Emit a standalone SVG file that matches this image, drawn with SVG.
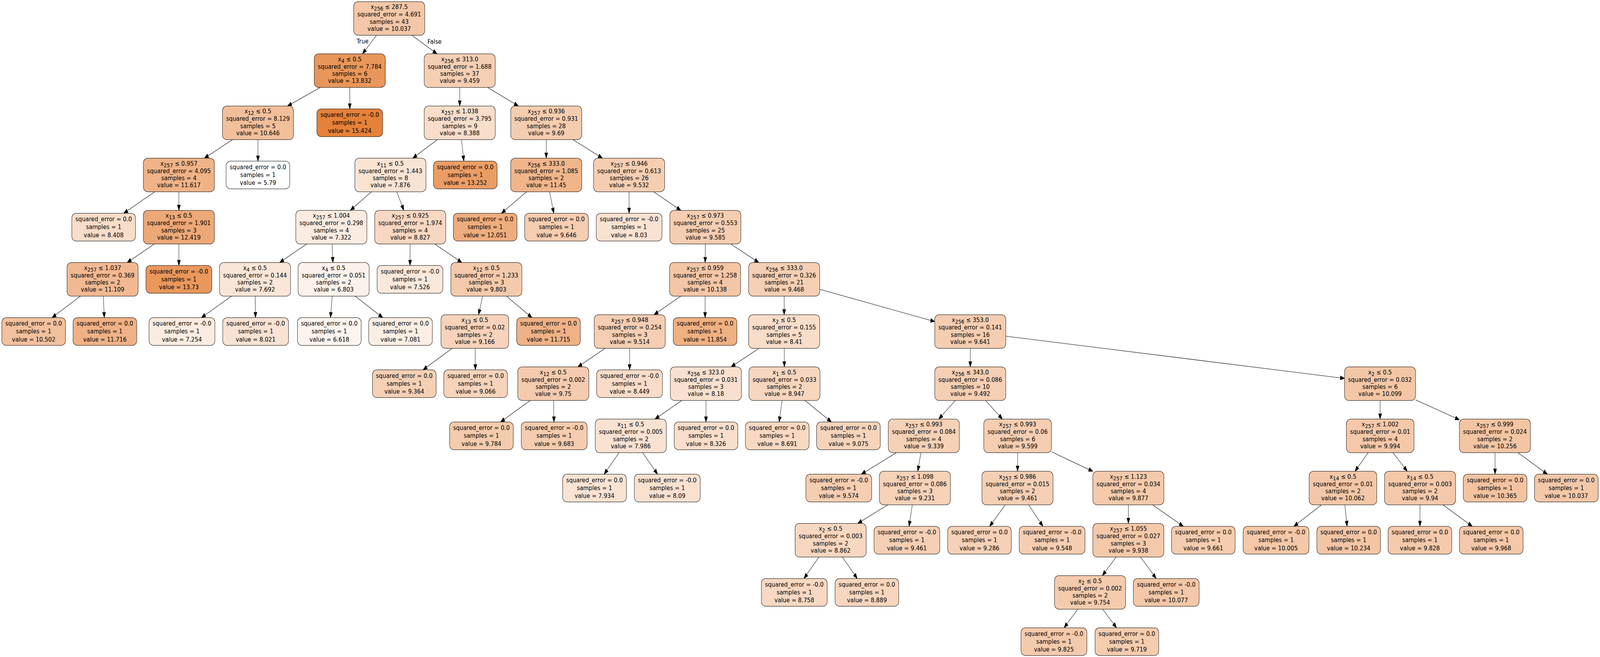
<svg xmlns="http://www.w3.org/2000/svg" width="5201" height="1681" viewBox="0 0 5201 1681" preserveAspectRatio="none">
<defs>
<style>
svg{width:100vw;height:100vh;display:block}
text{font-family:"DejaVu Sans","Liberation Sans",sans-serif;font-size:16px;text-anchor:middle;fill:#000;transform:scale(1.147,1)}
.s{font-size:13.8px}
rect.b{stroke:#000;stroke-width:1.1}
#edges line{stroke:#000;stroke-width:1.1;marker-end:url(#a)}
</style>
<marker id="a" markerUnits="userSpaceOnUse" markerWidth="14" markerHeight="11" viewBox="0 0 14 11" refX="13.5" refY="5.5" orient="auto" style="overflow:visible"><path d="M0,0.4 L13.5,5.5 L0,10.6 z" fill="#000" stroke="#000" stroke-width="1"/></marker>
</defs>
<rect width="5201" height="1681" fill="#fff"/>
<g id="edges">
<line x1="1223.9" y1="90.2" x2="1178.3" y2="137.7"/>
<line x1="1339.0" y1="90.2" x2="1420.6" y2="137.7"/>
<line x1="1040.9" y1="223.7" x2="934.6" y2="271.2"/>
<line x1="1137" y1="223.7" x2="1137" y2="278.7"/>
<line x1="1494.4" y1="223.7" x2="1494.4" y2="271.2"/>
<line x1="1585.0" y1="223.7" x2="1685.0" y2="271.2"/>
<line x1="755.7" y1="357.2" x2="664.3" y2="404.7"/>
<line x1="838.5" y1="357.2" x2="838.5" y2="412.2"/>
<line x1="1421.8" y1="357.2" x2="1341.6" y2="404.7"/>
<line x1="1500.2" y1="357.2" x2="1507.7" y2="412.2"/>
<line x1="1775.6" y1="357.2" x2="1775.6" y2="404.7"/>
<line x1="1862.4" y1="357.2" x2="1958.2" y2="404.7"/>
<line x1="502.8" y1="490.7" x2="402.0" y2="545.7"/>
<line x1="581.5" y1="490.7" x2="581.5" y2="538.2"/>
<line x1="1207.2" y1="490.7" x2="1138.8" y2="538.2"/>
<line x1="1289.8" y1="490.7" x2="1312.7" y2="538.2"/>
<line x1="1711.6" y1="490.7" x2="1629.8" y2="545.7"/>
<line x1="1786.4" y1="490.7" x2="1800.1" y2="545.7"/>
<line x1="2045" y1="490.7" x2="2045" y2="545.7"/>
<line x1="2124.9" y1="490.7" x2="2213.1" y2="538.2"/>
<line x1="501.6" y1="624.2" x2="413.4" y2="671.7"/>
<line x1="581.5" y1="624.2" x2="581.5" y2="679.2"/>
<line x1="997.1" y1="624.2" x2="908.9" y2="671.7"/>
<line x1="1079.4" y1="624.2" x2="1082.1" y2="671.7"/>
<line x1="1333.2" y1="624.2" x2="1332.9" y2="679.2"/>
<line x1="1413.2" y1="624.2" x2="1501.3" y2="671.7"/>
<line x1="2292.7" y1="624.2" x2="2292.3" y2="671.7"/>
<line x1="2375.5" y1="624.2" x2="2466.5" y2="671.7"/>
<line x1="261.4" y1="757.7" x2="169.1" y2="812.7"/>
<line x1="335.9" y1="757.7" x2="339.0" y2="812.7"/>
<line x1="752.5" y1="757.7" x2="654.7" y2="812.7"/>
<line x1="829.6" y1="757.7" x2="830.5" y2="812.7"/>
<line x1="1080.0" y1="757.7" x2="1074.2" y2="812.7"/>
<line x1="1154.6" y1="757.7" x2="1244.2" y2="812.7"/>
<line x1="1568.9" y1="757.7" x2="1555.6" y2="805.2"/>
<line x1="1646.1" y1="757.7" x2="1729.3" y2="812.7"/>
<line x1="2213.1" y1="757.7" x2="2125.9" y2="805.2"/>
<line x1="2292" y1="757.7" x2="2292" y2="812.7"/>
<line x1="2549" y1="757.7" x2="2549" y2="805.2"/>
<line x1="2664.5" y1="740.2" x2="3038.5" y2="822.7"/>
<line x1="1469.6" y1="891.2" x2="1375.2" y2="946.2"/>
<line x1="1544.3" y1="891.2" x2="1545.3" y2="946.2"/>
<line x1="1967.0" y1="891.2" x2="1878.5" y2="938.7"/>
<line x1="2046.8" y1="891.2" x2="2046.6" y2="946.2"/>
<line x1="2467.0" y1="891.2" x2="2376.5" y2="938.7"/>
<line x1="2549.3" y1="891.2" x2="2549.7" y2="938.7"/>
<line x1="3154" y1="891.2" x2="3154" y2="938.7"/>
<line x1="3270" y1="860.3" x2="4370.5" y2="968.2"/>
<line x1="1723.3" y1="1024.7" x2="1627.1" y2="1079.7"/>
<line x1="1799.5" y1="1024.7" x2="1800.7" y2="1079.7"/>
<line x1="2215.9" y1="1024.7" x2="2129.1" y2="1072.2"/>
<line x1="2294.7" y1="1024.7" x2="2294.9" y2="1079.7"/>
<line x1="2542.4" y1="1024.7" x2="2532.7" y2="1079.7"/>
<line x1="2617.0" y1="1024.7" x2="2702.7" y2="1079.7"/>
<line x1="3105.4" y1="1024.7" x2="3051.6" y2="1072.2"/>
<line x1="3203.6" y1="1024.7" x2="3258.4" y2="1072.2"/>
<line x1="4486.2" y1="1024.7" x2="4486.3" y2="1072.2"/>
<line x1="4601.5" y1="1023.0" x2="4744.0" y2="1073.9"/>
<line x1="2012.5" y1="1158.2" x2="1963.9" y2="1213.2"/>
<line x1="2088.7" y1="1158.2" x2="2137.5" y2="1213.2"/>
<line x1="2913.9" y1="1158.2" x2="2800.0" y2="1213.2"/>
<line x1="2993.7" y1="1158.2" x2="2983.3" y2="1205.7"/>
<line x1="3307.8" y1="1158.2" x2="3307.7" y2="1205.7"/>
<line x1="3418" y1="1156.0" x2="3552.5" y2="1205.9"/>
<line x1="4447.5" y1="1158.2" x2="4404.5" y2="1205.7"/>
<line x1="4528.2" y1="1158.2" x2="4574.3" y2="1205.7"/>
<line x1="4859.7" y1="1158.2" x2="4859.9" y2="1213.2"/>
<line x1="4934.2" y1="1158.2" x2="5029.8" y2="1213.2"/>
<line x1="2885.7" y1="1291.7" x2="2788.3" y2="1339.2"/>
<line x1="2965.6" y1="1291.7" x2="2954.9" y2="1346.7"/>
<line x1="3267.7" y1="1291.7" x2="3216.8" y2="1346.7"/>
<line x1="3343.7" y1="1291.7" x2="3390.1" y2="1346.7"/>
<line x1="3668" y1="1291.7" x2="3668" y2="1339.2"/>
<line x1="3746.4" y1="1291.7" x2="3846.8" y2="1346.7"/>
<line x1="4295.4" y1="1291.7" x2="4205.8" y2="1346.7"/>
<line x1="4371.5" y1="1291.7" x2="4379.1" y2="1346.7"/>
<line x1="4615.8" y1="1291.7" x2="4615.6" y2="1346.7"/>
<line x1="4690.6" y1="1291.7" x2="4785.9" y2="1346.7"/>
<line x1="2662.0" y1="1425.2" x2="2613.4" y2="1480.2"/>
<line x1="2738.0" y1="1425.2" x2="2786.6" y2="1480.2"/>
<line x1="3627.9" y1="1425.2" x2="3583.6" y2="1472.7"/>
<line x1="3707.6" y1="1425.2" x2="3758.3" y2="1480.2"/>
<line x1="3503.4" y1="1558.7" x2="3459.1" y2="1606.2"/>
<line x1="3584.3" y1="1558.7" x2="3629.3" y2="1606.2"/>
<g transform="translate(1178.3,0)"><text x="0" y="110.7">True</text></g>
<g transform="translate(1412.4,0)"><text x="0" y="111.6">False</text></g>
</g>
<g id="n0" transform="translate(1265.2,4.2)"><rect class="b" x="-115.5" width="231" height="86" rx="14" ry="12" fill="#f3c7a8"/><text><tspan x="0" y="19.2">x<tspan class="s" dy="4">256</tspan><tspan dy="-4"> ≤ 287.5</tspan></tspan><tspan x="0" y="38">squared_error = 4.691</tspan><tspan x="0" y="56.4">samples = 43</tspan><tspan x="0" y="74.8">value = 10.037</tspan></text></g>
<g id="n1" transform="translate(1137,137.7)"><rect class="b" x="-115.5" width="231" height="86" rx="14" ry="12" fill="#e9965a"/><text><tspan x="0" y="19.2">x<tspan class="s" dy="4">4</tspan><tspan dy="-4"> ≤ 0.5</tspan></tspan><tspan x="0" y="38">squared_error = 7.784</tspan><tspan x="0" y="56.4">samples = 6</tspan><tspan x="0" y="74.8">value = 13.832</tspan></text></g>
<g id="n2" transform="translate(1494.4,137.7)"><rect class="b" x="-115.5" width="231" height="86" rx="14" ry="12" fill="#f5cfb4"/><text><tspan x="0" y="19.2">x<tspan class="s" dy="4">256</tspan><tspan dy="-4"> ≤ 313.0</tspan></tspan><tspan x="0" y="38">squared_error = 1.688</tspan><tspan x="0" y="56.4">samples = 37</tspan><tspan x="0" y="74.8">value = 9.459</tspan></text></g>
<g id="n3" transform="translate(838.5,271.2)"><rect class="b" x="-115.5" width="231" height="86" rx="14" ry="12" fill="#f2bf9b"/><text><tspan x="0" y="19.2">x<tspan class="s" dy="4">12</tspan><tspan dy="-4"> ≤ 0.5</tspan></tspan><tspan x="0" y="38">squared_error = 8.129</tspan><tspan x="0" y="56.4">samples = 5</tspan><tspan x="0" y="74.8">value = 10.646</tspan></text></g>
<g id="n4" transform="translate(1137,278.7)"><rect class="b" x="-107" width="214" height="71" rx="14" ry="12" fill="#e58139"/><text><tspan x="0" y="20.5">squared_error = -0.0</tspan><tspan x="0" y="40.7">samples = 1</tspan><tspan x="0" y="60.9">value = 15.424</tspan></text></g>
<g id="n5" transform="translate(1494.4,271.2)"><rect class="b" x="-115.5" width="231" height="86" rx="14" ry="12" fill="#f8ddca"/><text><tspan x="0" y="19.2">x<tspan class="s" dy="4">257</tspan><tspan dy="-4"> ≤ 1.038</tspan></tspan><tspan x="0" y="38">squared_error = 3.795</tspan><tspan x="0" y="56.4">samples = 9</tspan><tspan x="0" y="74.8">value = 8.388</tspan></text></g>
<g id="n6" transform="translate(1775.6,271.2)"><rect class="b" x="-115.5" width="231" height="86" rx="14" ry="12" fill="#f4ccaf"/><text><tspan x="0" y="19.2">x<tspan class="s" dy="4">257</tspan><tspan dy="-4"> ≤ 0.936</tspan></tspan><tspan x="0" y="38">squared_error = 0.931</tspan><tspan x="0" y="56.4">samples = 28</tspan><tspan x="0" y="74.8">value = 9.69</tspan></text></g>
<g id="n7" transform="translate(581.5,404.7)"><rect class="b" x="-115.5" width="231" height="86" rx="14" ry="12" fill="#efb387"/><text><tspan x="0" y="19.2">x<tspan class="s" dy="4">257</tspan><tspan dy="-4"> ≤ 0.957</tspan></tspan><tspan x="0" y="38">squared_error = 4.095</tspan><tspan x="0" y="56.4">samples = 4</tspan><tspan x="0" y="74.8">value = 11.617</tspan></text></g>
<g id="n8" transform="translate(838.5,412.2)"><rect class="b" x="-103.5" width="207" height="71" rx="14" ry="12" fill="#ffffff"/><text><tspan x="0" y="20.5">squared_error = 0.0</tspan><tspan x="0" y="40.7">samples = 1</tspan><tspan x="0" y="60.9">value = 5.79</tspan></text></g>
<g id="n9" transform="translate(1269,404.7)"><rect class="b" x="-115.5" width="231" height="86" rx="14" ry="12" fill="#f9e4d4"/><text><tspan x="0" y="19.2">x<tspan class="s" dy="4">11</tspan><tspan dy="-4"> ≤ 0.5</tspan></tspan><tspan x="0" y="38">squared_error = 1.443</tspan><tspan x="0" y="56.4">samples = 8</tspan><tspan x="0" y="74.8">value = 7.876</tspan></text></g>
<g id="n10" transform="translate(1512.5,412.2)"><rect class="b" x="-103.5" width="207" height="71" rx="14" ry="12" fill="#eb9d66"/><text><tspan x="0" y="20.5">squared_error = 0.0</tspan><tspan x="0" y="40.7">samples = 1</tspan><tspan x="0" y="60.9">value = 13.252</tspan></text></g>
<g id="n11" transform="translate(1775.6,404.7)"><rect class="b" x="-115.5" width="231" height="86" rx="14" ry="12" fill="#f0b58b"/><text><tspan x="0" y="19.2">x<tspan class="s" dy="4">256</tspan><tspan dy="-4"> ≤ 333.0</tspan></tspan><tspan x="0" y="38">squared_error = 1.085</tspan><tspan x="0" y="56.4">samples = 2</tspan><tspan x="0" y="74.8">value = 11.45</tspan></text></g>
<g id="n12" transform="translate(2045,404.7)"><rect class="b" x="-115.5" width="231" height="86" rx="14" ry="12" fill="#f5ceb2"/><text><tspan x="0" y="19.2">x<tspan class="s" dy="4">257</tspan><tspan dy="-4"> ≤ 0.946</tspan></tspan><tspan x="0" y="38">squared_error = 0.613</tspan><tspan x="0" y="56.4">samples = 26</tspan><tspan x="0" y="74.8">value = 9.532</tspan></text></g>
<g id="n13" transform="translate(337,545.7)"><rect class="b" x="-103.5" width="207" height="71" rx="14" ry="12" fill="#f8ddc9"/><text><tspan x="0" y="20.5">squared_error = 0.0</tspan><tspan x="0" y="40.7">samples = 1</tspan><tspan x="0" y="60.9">value = 8.408</tspan></text></g>
<g id="n14" transform="translate(581.5,538.2)"><rect class="b" x="-115.5" width="231" height="86" rx="14" ry="12" fill="#eda877"/><text><tspan x="0" y="19.2">x<tspan class="s" dy="4">13</tspan><tspan dy="-4"> ≤ 0.5</tspan></tspan><tspan x="0" y="38">squared_error = 1.901</tspan><tspan x="0" y="56.4">samples = 3</tspan><tspan x="0" y="74.8">value = 12.419</tspan></text></g>
<g id="n15" transform="translate(1077,538.2)"><rect class="b" x="-115.5" width="231" height="86" rx="14" ry="12" fill="#fbebe0"/><text><tspan x="0" y="19.2">x<tspan class="s" dy="4">257</tspan><tspan dy="-4"> ≤ 1.004</tspan></tspan><tspan x="0" y="38">squared_error = 0.298</tspan><tspan x="0" y="56.4">samples = 4</tspan><tspan x="0" y="74.8">value = 7.322</tspan></text></g>
<g id="n16" transform="translate(1333.5,538.2)"><rect class="b" x="-115.5" width="231" height="86" rx="14" ry="12" fill="#f7d7c1"/><text><tspan x="0" y="19.2">x<tspan class="s" dy="4">257</tspan><tspan dy="-4"> ≤ 0.925</tspan></tspan><tspan x="0" y="38">squared_error = 1.974</tspan><tspan x="0" y="56.4">samples = 4</tspan><tspan x="0" y="74.8">value = 8.827</tspan></text></g>
<g id="n17" transform="translate(1577,545.7)"><rect class="b" x="-103.5" width="207" height="71" rx="14" ry="12" fill="#eead7e"/><text><tspan x="0" y="20.5">squared_error = 0.0</tspan><tspan x="0" y="40.7">samples = 1</tspan><tspan x="0" y="60.9">value = 12.051</tspan></text></g>
<g id="n18" transform="translate(1809,545.7)"><rect class="b" x="-103.5" width="207" height="71" rx="14" ry="12" fill="#f5cdb0"/><text><tspan x="0" y="20.5">squared_error = 0.0</tspan><tspan x="0" y="40.7">samples = 1</tspan><tspan x="0" y="60.9">value = 9.646</tspan></text></g>
<g id="n19" transform="translate(2045,545.7)"><rect class="b" x="-107" width="214" height="71" rx="14" ry="12" fill="#f9e2d1"/><text><tspan x="0" y="20.5">squared_error = -0.0</tspan><tspan x="0" y="40.7">samples = 1</tspan><tspan x="0" y="60.9">value = 8.03</tspan></text></g>
<g id="n20" transform="translate(2293,538.2)"><rect class="b" x="-115.5" width="231" height="86" rx="14" ry="12" fill="#f5cdb1"/><text><tspan x="0" y="19.2">x<tspan class="s" dy="4">257</tspan><tspan dy="-4"> ≤ 0.973</tspan></tspan><tspan x="0" y="38">squared_error = 0.553</tspan><tspan x="0" y="56.4">samples = 25</tspan><tspan x="0" y="74.8">value = 9.585</tspan></text></g>
<g id="n21" transform="translate(333.5,671.7)"><rect class="b" x="-115.5" width="231" height="86" rx="14" ry="12" fill="#f1b992"/><text><tspan x="0" y="19.2">x<tspan class="s" dy="4">257</tspan><tspan dy="-4"> ≤ 1.037</tspan></tspan><tspan x="0" y="38">squared_error = 0.369</tspan><tspan x="0" y="56.4">samples = 2</tspan><tspan x="0" y="74.8">value = 11.109</tspan></text></g>
<g id="n22" transform="translate(581.5,679.2)"><rect class="b" x="-107" width="214" height="71" rx="14" ry="12" fill="#ea975c"/><text><tspan x="0" y="20.5">squared_error = -0.0</tspan><tspan x="0" y="40.7">samples = 1</tspan><tspan x="0" y="60.9">value = 13.73</tspan></text></g>
<g id="n23" transform="translate(829,671.7)"><rect class="b" x="-115.5" width="231" height="86" rx="14" ry="12" fill="#fae6d8"/><text><tspan x="0" y="19.2">x<tspan class="s" dy="4">4</tspan><tspan dy="-4"> ≤ 0.5</tspan></tspan><tspan x="0" y="38">squared_error = 0.144</tspan><tspan x="0" y="56.4">samples = 2</tspan><tspan x="0" y="74.8">value = 7.692</tspan></text></g>
<g id="n24" transform="translate(1084.5,671.7)"><rect class="b" x="-115.5" width="231" height="86" rx="14" ry="12" fill="#fcf2ea"/><text><tspan x="0" y="19.2">x<tspan class="s" dy="4">4</tspan><tspan dy="-4"> ≤ 0.5</tspan></tspan><tspan x="0" y="38">squared_error = 0.051</tspan><tspan x="0" y="56.4">samples = 2</tspan><tspan x="0" y="74.8">value = 6.803</tspan></text></g>
<g id="n25" transform="translate(1332.8,679.2)"><rect class="b" x="-107" width="214" height="71" rx="14" ry="12" fill="#fae8db"/><text><tspan x="0" y="20.5">squared_error = -0.0</tspan><tspan x="0" y="40.7">samples = 1</tspan><tspan x="0" y="60.9">value = 7.526</tspan></text></g>
<g id="n26" transform="translate(1581,671.7)"><rect class="b" x="-115.5" width="231" height="86" rx="14" ry="12" fill="#f4caac"/><text><tspan x="0" y="19.2">x<tspan class="s" dy="4">12</tspan><tspan dy="-4"> ≤ 0.5</tspan></tspan><tspan x="0" y="38">squared_error = 1.233</tspan><tspan x="0" y="56.4">samples = 3</tspan><tspan x="0" y="74.8">value = 9.803</tspan></text></g>
<g id="n27" transform="translate(2292,671.7)"><rect class="b" x="-115.5" width="231" height="86" rx="14" ry="12" fill="#f3c6a6"/><text><tspan x="0" y="19.2">x<tspan class="s" dy="4">257</tspan><tspan dy="-4"> ≤ 0.959</tspan></tspan><tspan x="0" y="38">squared_error = 1.258</tspan><tspan x="0" y="56.4">samples = 4</tspan><tspan x="0" y="74.8">value = 10.138</tspan></text></g>
<g id="n28" transform="translate(2549,671.7)"><rect class="b" x="-115.5" width="231" height="86" rx="14" ry="12" fill="#f5cfb3"/><text><tspan x="0" y="19.2">x<tspan class="s" dy="4">256</tspan><tspan dy="-4"> ≤ 333.0</tspan></tspan><tspan x="0" y="38">squared_error = 0.326</tspan><tspan x="0" y="56.4">samples = 21</tspan><tspan x="0" y="74.8">value = 9.468</tspan></text></g>
<g id="n29" transform="translate(109.5,812.7)"><rect class="b" x="-103.5" width="207" height="71" rx="14" ry="12" fill="#f2c19e"/><text><tspan x="0" y="20.5">squared_error = 0.0</tspan><tspan x="0" y="40.7">samples = 1</tspan><tspan x="0" y="60.9">value = 10.502</tspan></text></g>
<g id="n30" transform="translate(341,812.7)"><rect class="b" x="-103.5" width="207" height="71" rx="14" ry="12" fill="#efb185"/><text><tspan x="0" y="20.5">squared_error = 0.0</tspan><tspan x="0" y="40.7">samples = 1</tspan><tspan x="0" y="60.9">value = 11.716</tspan></text></g>
<g id="n31" transform="translate(591.5,812.7)"><rect class="b" x="-107" width="214" height="71" rx="14" ry="12" fill="#fbece1"/><text><tspan x="0" y="20.5">squared_error = -0.0</tspan><tspan x="0" y="40.7">samples = 1</tspan><tspan x="0" y="60.9">value = 7.254</tspan></text></g>
<g id="n32" transform="translate(831,812.7)"><rect class="b" x="-107" width="214" height="71" rx="14" ry="12" fill="#f9e2d1"/><text><tspan x="0" y="20.5">squared_error = -0.0</tspan><tspan x="0" y="40.7">samples = 1</tspan><tspan x="0" y="60.9">value = 8.021</tspan></text></g>
<g id="n33" transform="translate(1070.5,812.7)"><rect class="b" x="-103.5" width="207" height="71" rx="14" ry="12" fill="#fdf4ee"/><text><tspan x="0" y="20.5">squared_error = 0.0</tspan><tspan x="0" y="40.7">samples = 1</tspan><tspan x="0" y="60.9">value = 6.618</tspan></text></g>
<g id="n34" transform="translate(1302,812.7)"><rect class="b" x="-103.5" width="207" height="71" rx="14" ry="12" fill="#fbeee4"/><text><tspan x="0" y="20.5">squared_error = 0.0</tspan><tspan x="0" y="40.7">samples = 1</tspan><tspan x="0" y="60.9">value = 7.081</tspan></text></g>
<g id="n35" transform="translate(1543.5,805.2)"><rect class="b" x="-110" width="220" height="86" rx="14" ry="12" fill="#f6d3ba"/><text><tspan x="0" y="19.2">x<tspan class="s" dy="4">13</tspan><tspan dy="-4"> ≤ 0.5</tspan></tspan><tspan x="0" y="38">squared_error = 0.02</tspan><tspan x="0" y="56.4">samples = 2</tspan><tspan x="0" y="74.8">value = 9.166</tspan></text></g>
<g id="n36" transform="translate(1783,812.7)"><rect class="b" x="-103.5" width="207" height="71" rx="14" ry="12" fill="#efb185"/><text><tspan x="0" y="20.5">squared_error = 0.0</tspan><tspan x="0" y="40.7">samples = 1</tspan><tspan x="0" y="60.9">value = 11.715</tspan></text></g>
<g id="n37" transform="translate(2047,805.2)"><rect class="b" x="-115.5" width="231" height="86" rx="14" ry="12" fill="#f5ceb3"/><text><tspan x="0" y="19.2">x<tspan class="s" dy="4">257</tspan><tspan dy="-4"> ≤ 0.948</tspan></tspan><tspan x="0" y="38">squared_error = 0.254</tspan><tspan x="0" y="56.4">samples = 3</tspan><tspan x="0" y="74.8">value = 9.514</tspan></text></g>
<g id="n38" transform="translate(2292,812.7)"><rect class="b" x="-103.5" width="207" height="71" rx="14" ry="12" fill="#efb082"/><text><tspan x="0" y="20.5">squared_error = 0.0</tspan><tspan x="0" y="40.7">samples = 1</tspan><tspan x="0" y="60.9">value = 11.854</tspan></text></g>
<g id="n39" transform="translate(2549,805.2)"><rect class="b" x="-115.5" width="231" height="86" rx="14" ry="12" fill="#f8ddc9"/><text><tspan x="0" y="19.2">x<tspan class="s" dy="4">2</tspan><tspan dy="-4"> ≤ 0.5</tspan></tspan><tspan x="0" y="38">squared_error = 0.155</tspan><tspan x="0" y="56.4">samples = 5</tspan><tspan x="0" y="74.8">value = 8.41</tspan></text></g>
<g id="n40" transform="translate(3154,805.2)"><rect class="b" x="-115.5" width="231" height="86" rx="14" ry="12" fill="#f5cdb0"/><text><tspan x="0" y="19.2">x<tspan class="s" dy="4">256</tspan><tspan dy="-4"> ≤ 353.0</tspan></tspan><tspan x="0" y="38">squared_error = 0.141</tspan><tspan x="0" y="56.4">samples = 16</tspan><tspan x="0" y="74.8">value = 9.641</tspan></text></g>
<g id="n41" transform="translate(1314.2,946.2)"><rect class="b" x="-103.5" width="207" height="71" rx="14" ry="12" fill="#f5d0b5"/><text><tspan x="0" y="20.5">squared_error = 0.0</tspan><tspan x="0" y="40.7">samples = 1</tspan><tspan x="0" y="60.9">value = 9.364</tspan></text></g>
<g id="n42" transform="translate(1546,946.2)"><rect class="b" x="-103.5" width="207" height="71" rx="14" ry="12" fill="#f6d4bc"/><text><tspan x="0" y="20.5">squared_error = 0.0</tspan><tspan x="0" y="40.7">samples = 1</tspan><tspan x="0" y="60.9">value = 9.066</tspan></text></g>
<g id="n43" transform="translate(1798.5,938.7)"><rect class="b" x="-115.5" width="231" height="86" rx="14" ry="12" fill="#f4cbae"/><text><tspan x="0" y="19.2">x<tspan class="s" dy="4">12</tspan><tspan dy="-4"> ≤ 0.5</tspan></tspan><tspan x="0" y="38">squared_error = 0.002</tspan><tspan x="0" y="56.4">samples = 2</tspan><tspan x="0" y="74.8">value = 9.75</tspan></text></g>
<g id="n44" transform="translate(2046.5,946.2)"><rect class="b" x="-107" width="214" height="71" rx="14" ry="12" fill="#f8dcc8"/><text><tspan x="0" y="20.5">squared_error = -0.0</tspan><tspan x="0" y="40.7">samples = 1</tspan><tspan x="0" y="60.9">value = 8.449</tspan></text></g>
<g id="n45" transform="translate(2294.5,938.7)"><rect class="b" x="-115.5" width="231" height="86" rx="14" ry="12" fill="#f9e0ce"/><text><tspan x="0" y="19.2">x<tspan class="s" dy="4">256</tspan><tspan dy="-4"> ≤ 323.0</tspan></tspan><tspan x="0" y="38">squared_error = 0.031</tspan><tspan x="0" y="56.4">samples = 3</tspan><tspan x="0" y="74.8">value = 8.18</tspan></text></g>
<g id="n46" transform="translate(2550,938.7)"><rect class="b" x="-115.5" width="231" height="86" rx="14" ry="12" fill="#f6d6be"/><text><tspan x="0" y="19.2">x<tspan class="s" dy="4">1</tspan><tspan dy="-4"> ≤ 0.5</tspan></tspan><tspan x="0" y="38">squared_error = 0.033</tspan><tspan x="0" y="56.4">samples = 2</tspan><tspan x="0" y="74.8">value = 8.947</tspan></text></g>
<g id="n47" transform="translate(3154,938.7)"><rect class="b" x="-115.5" width="231" height="86" rx="14" ry="12" fill="#f5cfb3"/><text><tspan x="0" y="19.2">x<tspan class="s" dy="4">256</tspan><tspan dy="-4"> ≤ 343.0</tspan></tspan><tspan x="0" y="38">squared_error = 0.086</tspan><tspan x="0" y="56.4">samples = 10</tspan><tspan x="0" y="74.8">value = 9.492</tspan></text></g>
<g id="n48" transform="translate(4486,938.7)"><rect class="b" x="-115.5" width="231" height="86" rx="14" ry="12" fill="#f3c7a6"/><text><tspan x="0" y="19.2">x<tspan class="s" dy="4">2</tspan><tspan dy="-4"> ≤ 0.5</tspan></tspan><tspan x="0" y="38">squared_error = 0.032</tspan><tspan x="0" y="56.4">samples = 6</tspan><tspan x="0" y="74.8">value = 10.099</tspan></text></g>
<g id="n49" transform="translate(1565,1079.7)"><rect class="b" x="-103.5" width="207" height="71" rx="14" ry="12" fill="#f4cbad"/><text><tspan x="0" y="20.5">squared_error = 0.0</tspan><tspan x="0" y="40.7">samples = 1</tspan><tspan x="0" y="60.9">value = 9.784</tspan></text></g>
<g id="n50" transform="translate(1801.5,1079.7)"><rect class="b" x="-107" width="214" height="71" rx="14" ry="12" fill="#f4ccaf"/><text><tspan x="0" y="20.5">squared_error = -0.0</tspan><tspan x="0" y="40.7">samples = 1</tspan><tspan x="0" y="60.9">value = 9.683</tspan></text></g>
<g id="n51" transform="translate(2050.5,1072.2)"><rect class="b" x="-115.5" width="231" height="86" rx="14" ry="12" fill="#f9e2d2"/><text><tspan x="0" y="19.2">x<tspan class="s" dy="4">11</tspan><tspan dy="-4"> ≤ 0.5</tspan></tspan><tspan x="0" y="38">squared_error = 0.005</tspan><tspan x="0" y="56.4">samples = 2</tspan><tspan x="0" y="74.8">value = 7.986</tspan></text></g>
<g id="n52" transform="translate(2295,1079.7)"><rect class="b" x="-103.5" width="207" height="71" rx="14" ry="12" fill="#f8decb"/><text><tspan x="0" y="20.5">squared_error = 0.0</tspan><tspan x="0" y="40.7">samples = 1</tspan><tspan x="0" y="60.9">value = 8.326</tspan></text></g>
<g id="n53" transform="translate(2526.5,1079.7)"><rect class="b" x="-103.5" width="207" height="71" rx="14" ry="12" fill="#f7d9c3"/><text><tspan x="0" y="20.5">squared_error = 0.0</tspan><tspan x="0" y="40.7">samples = 1</tspan><tspan x="0" y="60.9">value = 8.691</tspan></text></g>
<g id="n54" transform="translate(2758,1079.7)"><rect class="b" x="-103.5" width="207" height="71" rx="14" ry="12" fill="#f6d4bb"/><text><tspan x="0" y="20.5">squared_error = 0.0</tspan><tspan x="0" y="40.7">samples = 1</tspan><tspan x="0" y="60.9">value = 9.075</tspan></text></g>
<g id="n55" transform="translate(3003,1072.2)"><rect class="b" x="-115.5" width="231" height="86" rx="14" ry="12" fill="#f5d1b6"/><text><tspan x="0" y="19.2">x<tspan class="s" dy="4">257</tspan><tspan dy="-4"> ≤ 0.993</tspan></tspan><tspan x="0" y="38">squared_error = 0.084</tspan><tspan x="0" y="56.4">samples = 4</tspan><tspan x="0" y="74.8">value = 9.339</tspan></text></g>
<g id="n56" transform="translate(3308,1072.2)"><rect class="b" x="-110" width="220" height="86" rx="14" ry="12" fill="#f5cdb1"/><text><tspan x="0" y="19.2">x<tspan class="s" dy="4">257</tspan><tspan dy="-4"> ≤ 0.993</tspan></tspan><tspan x="0" y="38">squared_error = 0.06</tspan><tspan x="0" y="56.4">samples = 6</tspan><tspan x="0" y="74.8">value = 9.599</tspan></text></g>
<g id="n57" transform="translate(4486.5,1072.2)"><rect class="b" x="-110" width="220" height="86" rx="14" ry="12" fill="#f4c8a9"/><text><tspan x="0" y="19.2">x<tspan class="s" dy="4">257</tspan><tspan dy="-4"> ≤ 1.002</tspan></tspan><tspan x="0" y="38">squared_error = 0.01</tspan><tspan x="0" y="56.4">samples = 4</tspan><tspan x="0" y="74.8">value = 9.994</tspan></text></g>
<g id="n58" transform="translate(4859.5,1072.2)"><rect class="b" x="-115.5" width="231" height="86" rx="14" ry="12" fill="#f3c5a3"/><text><tspan x="0" y="19.2">x<tspan class="s" dy="4">257</tspan><tspan dy="-4"> ≤ 0.999</tspan></tspan><tspan x="0" y="38">squared_error = 0.024</tspan><tspan x="0" y="56.4">samples = 2</tspan><tspan x="0" y="74.8">value = 10.256</tspan></text></g>
<g id="n59" transform="translate(1932.5,1213.2)"><rect class="b" x="-103.5" width="207" height="71" rx="14" ry="12" fill="#f9e3d3"/><text><tspan x="0" y="20.5">squared_error = 0.0</tspan><tspan x="0" y="40.7">samples = 1</tspan><tspan x="0" y="60.9">value = 7.934</tspan></text></g>
<g id="n60" transform="translate(2169,1213.2)"><rect class="b" x="-107" width="214" height="71" rx="14" ry="12" fill="#f9e1d0"/><text><tspan x="0" y="20.5">squared_error = -0.0</tspan><tspan x="0" y="40.7">samples = 1</tspan><tspan x="0" y="60.9">value = 8.09</tspan></text></g>
<g id="n61" transform="translate(2726.5,1213.2)"><rect class="b" x="-107" width="214" height="71" rx="14" ry="12" fill="#f5cdb1"/><text><tspan x="0" y="20.5">squared_error = -0.0</tspan><tspan x="0" y="40.7">samples = 1</tspan><tspan x="0" y="60.9">value = 9.574</tspan></text></g>
<g id="n62" transform="translate(2974,1205.7)"><rect class="b" x="-115.5" width="231" height="86" rx="14" ry="12" fill="#f6d2b8"/><text><tspan x="0" y="19.2">x<tspan class="s" dy="4">257</tspan><tspan dy="-4"> ≤ 1.098</tspan></tspan><tspan x="0" y="38">squared_error = 0.086</tspan><tspan x="0" y="56.4">samples = 3</tspan><tspan x="0" y="74.8">value = 9.231</tspan></text></g>
<g id="n63" transform="translate(3307.5,1205.7)"><rect class="b" x="-115.5" width="231" height="86" rx="14" ry="12" fill="#f5cfb4"/><text><tspan x="0" y="19.2">x<tspan class="s" dy="4">257</tspan><tspan dy="-4"> ≤ 0.986</tspan></tspan><tspan x="0" y="38">squared_error = 0.015</tspan><tspan x="0" y="56.4">samples = 2</tspan><tspan x="0" y="74.8">value = 9.461</tspan></text></g>
<g id="n64" transform="translate(3668,1205.7)"><rect class="b" x="-115.5" width="231" height="86" rx="14" ry="12" fill="#f4caab"/><text><tspan x="0" y="19.2">x<tspan class="s" dy="4">257</tspan><tspan dy="-4"> ≤ 1.123</tspan></tspan><tspan x="0" y="38">squared_error = 0.034</tspan><tspan x="0" y="56.4">samples = 4</tspan><tspan x="0" y="74.8">value = 9.877</tspan></text></g>
<g id="n65" transform="translate(4365.5,1205.7)"><rect class="b" x="-110" width="220" height="86" rx="14" ry="12" fill="#f3c7a7"/><text><tspan x="0" y="19.2">x<tspan class="s" dy="4">14</tspan><tspan dy="-4"> ≤ 0.5</tspan></tspan><tspan x="0" y="38">squared_error = 0.01</tspan><tspan x="0" y="56.4">samples = 2</tspan><tspan x="0" y="74.8">value = 10.062</tspan></text></g>
<g id="n66" transform="translate(4616,1205.7)"><rect class="b" x="-115.5" width="231" height="86" rx="14" ry="12" fill="#f4c9aa"/><text><tspan x="0" y="19.2">x<tspan class="s" dy="4">14</tspan><tspan dy="-4"> ≤ 0.5</tspan></tspan><tspan x="0" y="38">squared_error = 0.003</tspan><tspan x="0" y="56.4">samples = 2</tspan><tspan x="0" y="74.8">value = 9.94</tspan></text></g>
<g id="n67" transform="translate(4860,1213.2)"><rect class="b" x="-103.5" width="207" height="71" rx="14" ry="12" fill="#f3c3a1"/><text><tspan x="0" y="20.5">squared_error = 0.0</tspan><tspan x="0" y="40.7">samples = 1</tspan><tspan x="0" y="60.9">value = 10.365</tspan></text></g>
<g id="n68" transform="translate(5091.5,1213.2)"><rect class="b" x="-103.5" width="207" height="71" rx="14" ry="12" fill="#f3c7a8"/><text><tspan x="0" y="20.5">squared_error = 0.0</tspan><tspan x="0" y="40.7">samples = 1</tspan><tspan x="0" y="60.9">value = 10.037</tspan></text></g>
<g id="n69" transform="translate(2700,1339.2)"><rect class="b" x="-115.5" width="231" height="86" rx="14" ry="12" fill="#f7d7c0"/><text><tspan x="0" y="19.2">x<tspan class="s" dy="4">2</tspan><tspan dy="-4"> ≤ 0.5</tspan></tspan><tspan x="0" y="38">squared_error = 0.003</tspan><tspan x="0" y="56.4">samples = 2</tspan><tspan x="0" y="74.8">value = 8.862</tspan></text></g>
<g id="n70" transform="translate(2948,1346.7)"><rect class="b" x="-107" width="214" height="71" rx="14" ry="12" fill="#f5cfb4"/><text><tspan x="0" y="20.5">squared_error = -0.0</tspan><tspan x="0" y="40.7">samples = 1</tspan><tspan x="0" y="60.9">value = 9.461</tspan></text></g>
<g id="n71" transform="translate(3184,1346.7)"><rect class="b" x="-103.5" width="207" height="71" rx="14" ry="12" fill="#f6d1b7"/><text><tspan x="0" y="20.5">squared_error = 0.0</tspan><tspan x="0" y="40.7">samples = 1</tspan><tspan x="0" y="60.9">value = 9.286</tspan></text></g>
<g id="n72" transform="translate(3420,1346.7)"><rect class="b" x="-107" width="214" height="71" rx="14" ry="12" fill="#f5ceb2"/><text><tspan x="0" y="20.5">squared_error = -0.0</tspan><tspan x="0" y="40.7">samples = 1</tspan><tspan x="0" y="60.9">value = 9.548</tspan></text></g>
<g id="n73" transform="translate(3668,1339.2)"><rect class="b" x="-115.5" width="231" height="86" rx="14" ry="12" fill="#f4c9aa"/><text><tspan x="0" y="19.2">x<tspan class="s" dy="4">257</tspan><tspan dy="-4"> ≤ 1.055</tspan></tspan><tspan x="0" y="38">squared_error = 0.027</tspan><tspan x="0" y="56.4">samples = 3</tspan><tspan x="0" y="74.8">value = 9.938</tspan></text></g>
<g id="n74" transform="translate(3911.5,1346.7)"><rect class="b" x="-103.5" width="207" height="71" rx="14" ry="12" fill="#f5ccaf"/><text><tspan x="0" y="20.5">squared_error = 0.0</tspan><tspan x="0" y="40.7">samples = 1</tspan><tspan x="0" y="60.9">value = 9.661</tspan></text></g>
<g id="n75" transform="translate(4148,1346.7)"><rect class="b" x="-107" width="214" height="71" rx="14" ry="12" fill="#f4c8a8"/><text><tspan x="0" y="20.5">squared_error = -0.0</tspan><tspan x="0" y="40.7">samples = 1</tspan><tspan x="0" y="60.9">value = 10.005</tspan></text></g>
<g id="n76" transform="translate(4384,1346.7)"><rect class="b" x="-103.5" width="207" height="71" rx="14" ry="12" fill="#f3c5a4"/><text><tspan x="0" y="20.5">squared_error = 0.0</tspan><tspan x="0" y="40.7">samples = 1</tspan><tspan x="0" y="60.9">value = 10.234</tspan></text></g>
<g id="n77" transform="translate(4615.5,1346.7)"><rect class="b" x="-103.5" width="207" height="71" rx="14" ry="12" fill="#f4caac"/><text><tspan x="0" y="20.5">squared_error = 0.0</tspan><tspan x="0" y="40.7">samples = 1</tspan><tspan x="0" y="60.9">value = 9.828</tspan></text></g>
<g id="n78" transform="translate(4847.5,1346.7)"><rect class="b" x="-103.5" width="207" height="71" rx="14" ry="12" fill="#f4c8a9"/><text><tspan x="0" y="20.5">squared_error = 0.0</tspan><tspan x="0" y="40.7">samples = 1</tspan><tspan x="0" y="60.9">value = 9.968</tspan></text></g>
<g id="n79" transform="translate(2582,1480.2)"><rect class="b" x="-107" width="214" height="71" rx="14" ry="12" fill="#f7d8c2"/><text><tspan x="0" y="20.5">squared_error = -0.0</tspan><tspan x="0" y="40.7">samples = 1</tspan><tspan x="0" y="60.9">value = 8.758</tspan></text></g>
<g id="n80" transform="translate(2818,1480.2)"><rect class="b" x="-103.5" width="207" height="71" rx="14" ry="12" fill="#f7d6bf"/><text><tspan x="0" y="20.5">squared_error = 0.0</tspan><tspan x="0" y="40.7">samples = 1</tspan><tspan x="0" y="60.9">value = 8.889</tspan></text></g>
<g id="n81" transform="translate(3543.5,1472.7)"><rect class="b" x="-115.5" width="231" height="86" rx="14" ry="12" fill="#f4cbad"/><text><tspan x="0" y="19.2">x<tspan class="s" dy="4">2</tspan><tspan dy="-4"> ≤ 0.5</tspan></tspan><tspan x="0" y="38">squared_error = 0.002</tspan><tspan x="0" y="56.4">samples = 2</tspan><tspan x="0" y="74.8">value = 9.754</tspan></text></g>
<g id="n82" transform="translate(3791,1480.2)"><rect class="b" x="-107" width="214" height="71" rx="14" ry="12" fill="#f3c7a7"/><text><tspan x="0" y="20.5">squared_error = -0.0</tspan><tspan x="0" y="40.7">samples = 1</tspan><tspan x="0" y="60.9">value = 10.077</tspan></text></g>
<g id="n83" transform="translate(3426,1606.2)"><rect class="b" x="-107" width="214" height="71" rx="14" ry="12" fill="#f4caac"/><text><tspan x="0" y="20.5">squared_error = -0.0</tspan><tspan x="0" y="40.7">samples = 1</tspan><tspan x="0" y="60.9">value = 9.825</tspan></text></g>
<g id="n84" transform="translate(3663,1606.2)"><rect class="b" x="-103.5" width="207" height="71" rx="14" ry="12" fill="#f4ccae"/><text><tspan x="0" y="20.5">squared_error = 0.0</tspan><tspan x="0" y="40.7">samples = 1</tspan><tspan x="0" y="60.9">value = 9.719</tspan></text></g>
</svg>
